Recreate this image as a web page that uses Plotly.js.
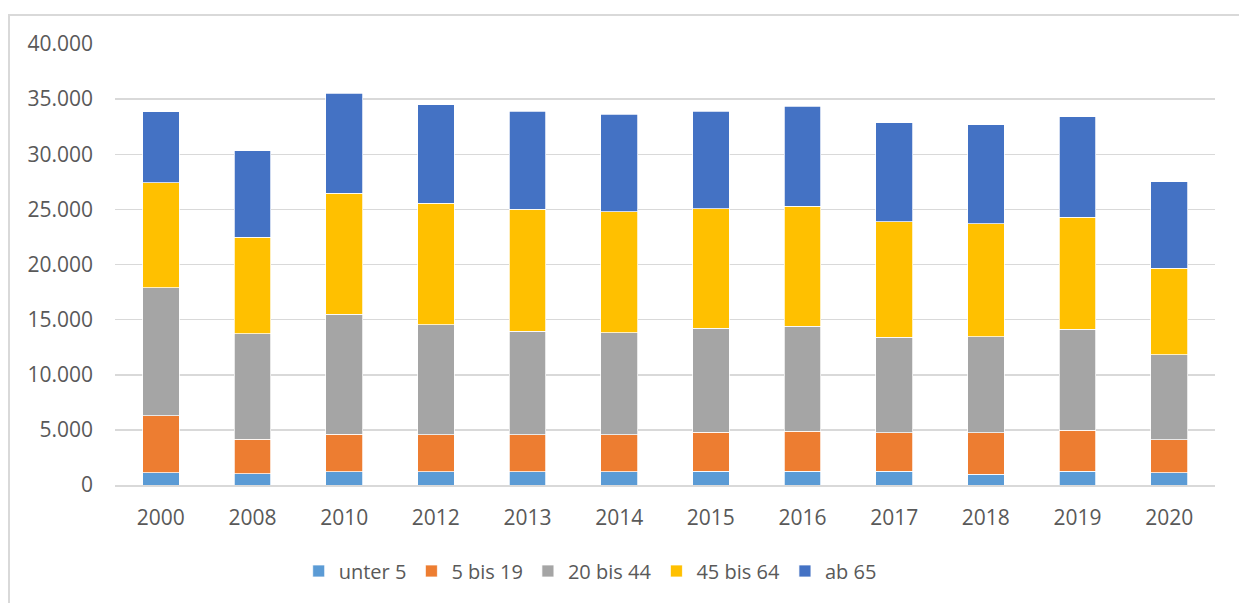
<!DOCTYPE html>
<html>
<head>
<meta charset="utf-8">
<script src="https://cdn.plot.ly/plotly-3.0.1.min.js"></script>
<style>
  html, body { margin: 0; padding: 0; background: #ffffff; overflow: hidden; }
  #wrap { position: relative; width: 1239px; height: 603px; }
  #chart { position: absolute; left: 0; top: 0; width: 1239px; height: 603px; }
  #frame { position: absolute; left: 8px; top: 14px; width: 1300px; height: 700px;
           border-left: 2px solid #d9d9d9; border-top: 2px solid #d9d9d9; pointer-events: none; }
</style>
</head>
<body>
<div id="wrap">
  <div id="chart"></div>
  <div id="frame"></div>
</div>
<script>
const years = ["2000", "2008", "2010", "2012", "2013", "2014", "2015", "2016", "2017", "2018", "2019", "2020"];

const seriesNames = ["unter 5", "5 bis 19", "20 bis 44", "45 bis 64", "ab 65"];

const unter5   = [1100, 1000, 1200, 1200, 1200, 1200, 1260, 1260, 1260, 990, 1260, 1110];
const bis19    = [5200, 3150, 3400, 3340, 3340, 3340, 3520, 3610, 3460, 3730, 3700, 2980];
const bis44    = [11570, 9580, 10900, 10000, 9400, 9280, 9430, 9550, 8680, 8710, 9160, 7720];
const bis64    = [9550, 8720, 10970, 11030, 11060, 10970, 10850, 10880, 10490, 10250, 10160, 7870];
const ab65     = [6430, 7870, 9080, 8930, 8920, 8830, 8860, 9040, 8980, 8980, 9130, 7810];

const colors = ["#5B9BD5", "#ED7D31", "#A5A5A5", "#FFC000", "#4472C4"];
const values = [unter5, bis19, bis44, bis64, ab65];

const traces = values.map((v, i) => ({
  type: "bar",
  name: seriesNames[i],
  x: years,
  y: v,
  marker: { color: colors[i], line: { color: "#ffffff", width: 0.75 } },
  hoverinfo: "none"
}));

const fontFam = "Open Sans, Noto Sans, sans-serif";

const layout = {
  width: 1239,
  height: 603,
  barmode: "stack",
  bargap: 0.6,
  separators: ",.",
  paper_bgcolor: "#ffffff",
  plot_bgcolor: "#ffffff",
  margin: { l: 115, r: 24, t: 44, b: 115 },
  font: { family: fontFam, size: 21, color: "#595959" },
  xaxis: {
    type: "category",
    showgrid: false,
    showline: true,
    linecolor: "#d9d9d9",
    linewidth: 2,
    ticks: "",
    ticklabelstandoff: 13,
    tickfont: { family: fontFam, size: 21, color: "#595959" },
    zeroline: false
  },
  yaxis: {
    range: [0, 40000],
    dtick: 5000,
    tick0: 0,
    tickformat: ",d",
    showgrid: true,
    gridcolor: "#d9d9d9",
    gridwidth: 1.5,
    zeroline: false,
    showline: false,
    ticks: "",
    ticklabelstandoff: 21,
    tickfont: { family: fontFam, size: 21, color: "#595959" }
  },
  showlegend: true,
  legend: {
    orientation: "h",
    x: 0.432,
    xanchor: "center",
    y: -0.195,
    yanchor: "middle",
    traceorder: "normal",
    itemwidth: 30,
    font: { family: fontFam, size: 20, color: "#595959" }
  }
};

Plotly.newPlot("chart", traces, layout, { staticPlot: true, displayModeBar: false });
</script>
</body>
</html>
